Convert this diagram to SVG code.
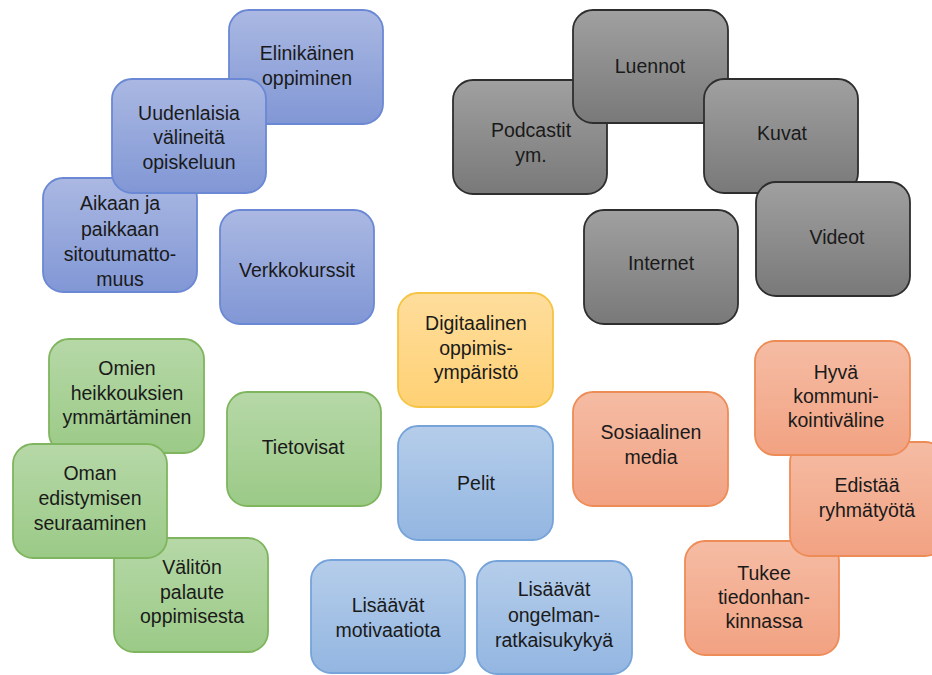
<svg xmlns="http://www.w3.org/2000/svg" width="932" height="675" viewBox="0 0 932 675">
<defs>
<linearGradient id="gP" x1="0" y1="0" x2="0" y2="1"><stop offset="0" stop-color="#aab8e2"/><stop offset="1" stop-color="#8197d5"/></linearGradient>
<linearGradient id="gG" x1="0" y1="0" x2="0" y2="1"><stop offset="0" stop-color="#a0a0a0"/><stop offset="1" stop-color="#797979"/></linearGradient>
<linearGradient id="gGr" x1="0" y1="0" x2="0" y2="1"><stop offset="0" stop-color="#b6d8a7"/><stop offset="1" stop-color="#9bca87"/></linearGradient>
<linearGradient id="gY" x1="0" y1="0" x2="0" y2="1"><stop offset="0" stop-color="#fedd9c"/><stop offset="1" stop-color="#ffd174"/></linearGradient>
<linearGradient id="gB" x1="0" y1="0" x2="0" y2="1"><stop offset="0" stop-color="#b5cdea"/><stop offset="1" stop-color="#93b6e1"/></linearGradient>
<linearGradient id="gO" x1="0" y1="0" x2="0" y2="1"><stop offset="0" stop-color="#f5bca4"/><stop offset="1" stop-color="#f2a282"/></linearGradient>
</defs>
<style>
rect{stroke-width:1.8}
.p rect{fill:url(#gP);stroke:#6a88d4}
.g rect{fill:url(#gG);stroke:#2e2e2e}
.gr rect{fill:url(#gGr);stroke:#7fb55e}
.y rect{fill:url(#gY);stroke:#f6c445}
.b rect{fill:url(#gB);stroke:#76a4da}
.o rect{fill:url(#gO);stroke:#ee8c58}
text{font-family:"Liberation Sans",Arial,sans-serif;font-size:19.5px;fill:#1a1a1a;text-anchor:middle}
</style>
<rect width="932" height="675" fill="#ffffff"/>
<g id="connectors"/>

<g id="elinikainen" class="p"><rect x="229" y="10" width="154" height="114" rx="20"/>
<text x="307" y="60">Elinikäinen</text><text x="307" y="85">oppiminen</text></g>
<g id="aikaan" class="p"><rect x="43" y="178" width="154" height="114" rx="20"/>
<text x="120" y="210">Aikaan ja</text><text x="120" y="236">paikkaan</text><text x="120" y="261">sitoutumatto-</text><text x="120" y="286">muus</text></g>
<g id="uudenlaisia" class="p"><rect x="112" y="79" width="154" height="114" rx="20"/>
<text x="189" y="120">Uudenlaisia</text><text x="189" y="144">välineitä</text><text x="189" y="169">opiskeluun</text></g>
<g id="verkkokurssit" class="p"><rect x="220" y="210" width="154" height="114" rx="20"/>
<text x="297" y="277">Verkkokurssit</text></g>

<g id="podcastit" class="g"><rect x="453" y="80" width="154" height="114" rx="20"/>
<text x="531" y="137">Podcastit</text><text x="531" y="162">ym.</text></g>
<g id="luennot" class="g"><rect x="573" y="10" width="155" height="113" rx="20"/>
<text x="650" y="73">Luennot</text></g>
<g id="kuvat" class="g"><rect x="704" y="79" width="154" height="114" rx="20"/>
<text x="782" y="140">Kuvat</text></g>
<g id="videot" class="g"><rect x="756" y="182" width="154" height="114" rx="20"/>
<text x="837" y="244">Videot</text></g>
<g id="internet" class="g"><rect x="584" y="210" width="154" height="114" rx="20"/>
<text x="661" y="270">Internet</text></g>

<g id="omien" class="gr"><rect x="49" y="339" width="155" height="114" rx="20"/>
<text x="127" y="375">Omien</text><text x="127" y="400">heikkouksien</text><text x="127" y="424">ymmärtäminen</text></g>
<g id="valiton" class="gr"><rect x="114" y="538" width="154" height="114" rx="20"/>
<text x="192" y="574">Välitön</text><text x="192" y="599">palaute</text><text x="192" y="623">oppimisesta</text></g>
<g id="oman" class="gr"><rect x="13" y="444" width="154" height="114" rx="20"/>
<text x="90" y="480">Oman</text><text x="90" y="505">edistymisen</text><text x="90" y="530">seuraaminen</text></g>
<g id="tietovisat" class="gr"><rect x="227" y="392" width="154" height="114" rx="20"/>
<text x="303" y="454">Tietovisat</text></g>

<g id="digitaalinen" class="y"><rect x="398" y="293" width="155" height="114" rx="20"/>
<text x="476" y="330">Digitaalinen</text><text x="476" y="355">oppimis-</text><text x="476" y="379">ympäristö</text></g>

<g id="pelit" class="b"><rect x="398" y="426" width="155" height="114" rx="20"/>
<text x="476" y="490">Pelit</text></g>
<g id="motivaatiota" class="b"><rect x="311" y="560" width="154" height="113" rx="20"/>
<text x="388" y="612">Lisäävät</text><text x="388" y="637">motivaatiota</text></g>
<g id="ongelmanratkaisu" class="b"><rect x="477" y="561" width="155" height="113" rx="20"/>
<text x="554" y="596">Lisäävät</text><text x="554" y="622">ongelman-</text><text x="554" y="647">ratkaisukykyä</text></g>

<g id="sosiaalinen" class="o"><rect x="573" y="392" width="155" height="114" rx="20"/>
<text x="651" y="439">Sosiaalinen</text><text x="651" y="464">media</text></g>
<g id="tukee" class="o"><rect x="685" y="541" width="154" height="114" rx="20"/>
<text x="764" y="580">Tukee</text><text x="764" y="604">tiedonhan-</text><text x="764" y="628">kinnassa</text></g>
<g id="edistaa" class="o"><rect x="790" y="442" width="155" height="114" rx="20"/>
<text x="867" y="492">Edistää</text><text x="867" y="517">ryhmätyötä</text></g>
<g id="hyva" class="o"><rect x="755" y="341" width="155" height="114" rx="20"/>
<text x="836" y="379">Hyvä</text><text x="836" y="403">kommuni-</text><text x="836" y="427">kointiväline</text></g>
</svg>
